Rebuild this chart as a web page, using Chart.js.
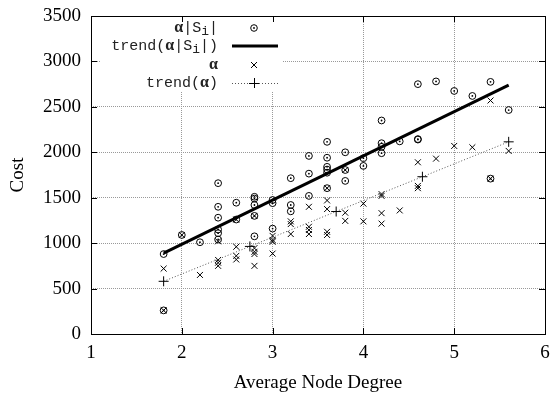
<!DOCTYPE html>
<html><head><meta charset="utf-8">
<script src="https://cdn.jsdelivr.net/npm/chart.js@4.4.0/dist/chart.umd.min.js"></script>
<style>html,body{margin:0;padding:0;background:#fff}#wrap{width:553px;height:398px}</style>
</head><body><div id="wrap"><canvas id="c" width="553" height="398"></canvas></div>
<script>
// ---- data ----
const xTicks = [1, 2, 3, 4, 5, 6];
const yTicks = [0, 500, 1000, 1500, 2000, 2500, 3000, 3500];

// alpha|S_i| (circles)
const degreeS = [1.8,1.8, 2.0, 2.2, 2.4,2.4,2.4,2.4,2.4,2.4, 2.6,2.6, 2.8,2.8,2.8,2.8,2.8,
  3.0,3.0,3.0, 3.2,3.2,3.2, 3.4,3.4,3.4, 3.6,3.6,3.6,3.6,3.6,3.6, 3.8,3.8,3.8, 4.0,4.0,
  4.2,4.2,4.2,4.2, 4.4, 4.6,4.6,4.6, 4.8, 5.0, 5.2, 5.4,5.4, 5.6];
const costS = [880,260, 1090, 1010, 1660,1400,1280,1150,1110,1040, 1445,1260, 1510,1490,1420,1300,1075,
  1475,1440,1160, 1715,1420,1350, 1960,1765,1520, 2115,1940,1840,1810,1775,1605, 2000,1805,1685, 1935,1850,
  2350,2100,2060,1990, 2120, 2750,2145,2140, 2780, 2675, 2620, 2775,1710, 2465];

// alpha (crosses)
const degreeA = [1.8,1.8, 2.0, 2.2, 2.4,2.4,2.4,2.4, 2.6,2.6,2.6,2.6, 2.8,2.8,2.8,2.8,2.8,
  3.0,3.0,3.0,3.0, 3.2,3.2,3.2, 3.4,3.4,3.4,3.4, 3.6,3.6,3.6,3.6,3.6, 3.8,3.8,3.8, 4.0,4.0,
  4.2,4.2,4.2,4.2, 4.4, 4.6,4.6,4.6, 4.8, 5.0, 5.2, 5.4,5.4, 5.6];
const costA = [720,260, 1090, 650, 1020,815,785,750, 1260,960,860,820, 1300,945,905,880,750,
  1080,1035,1015,885, 1240,1210,1100, 1400,1180,1145,1100, 1605,1470,1375,1125,1090, 1805,1335,1245, 1435,1240,
  1540,1520,1330,1215, 1360, 1890,1630,1605, 1930, 2070, 2055, 2570,1710, 2015];

// trend lines
const trendSX = [1.8, 5.6];
const trendSY = [890, 2740];
const trendAX = [1.8, 2.75, 3.7, 4.65, 5.6];
const trendAY = [580, 964, 1348, 1731, 2115];

const legendLabels = ['α|S_i|', 'trend(α|S_i|)', 'α', 'trend(α)'];

// ---- helpers ----
const pts = (xs, ys) => xs.map((x, i) => ({x: x, y: ys[i]}));

const SERIF = '"Liberation Serif", "DejaVu Serif", serif';
const MONO = '"Liberation Mono", "DejaVu Sans Mono", monospace';

function drawRich(ctx, label, xRight, yMid) {
  const segs = [];
  let i = 0;
  while (i < label.length) {
    const ch = label[i];
    if (ch === 'α') { segs.push({t: 'α', f: 'bold 16px ' + SERIF, dy: 0}); i++; }
    else if (ch === '_') { segs.push({t: label[i + 1], f: '13px ' + MONO, dy: 4}); i += 2; }
    else {
      let s = '';
      while (i < label.length && label[i] !== 'α' && label[i] !== '_') { s += label[i]; i++; }
      segs.push({t: s, f: '15px ' + MONO, dy: 0});
    }
  }
  let w = 0;
  segs.forEach(s => { ctx.font = s.f; s.w = ctx.measureText(s.t).width; w += s.w; });
  let x = xRight - w;
  ctx.textBaseline = 'middle';
  ctx.textAlign = 'left';
  ctx.fillStyle = '#222';
  segs.forEach(s => { ctx.font = s.f; ctx.fillText(s.t, x, yMid + s.dy); x += s.w; });
}

const gnuPlugin = {
  id: 'gnu',
  beforeDatasetsDraw(chart) {
    const ctx = chart.ctx;
    ctx.save();
    ctx.fillStyle = '#fff';
    ctx.fillRect(101, 17, 182, 74);
    const rows = [28, 46, 65, 83];
    const tx = 218, sx = 254;
    legendLabels.forEach((lab, k) => drawRich(ctx, lab, tx, rows[k]));
    // samples
    ctx.strokeStyle = '#000'; ctx.fillStyle = '#000'; ctx.lineWidth = 1;
    ctx.beginPath(); ctx.arc(sx, rows[0], 3.3, 0, Math.PI * 2); ctx.stroke();
    ctx.beginPath(); ctx.arc(sx, rows[0], 0.9, 0, Math.PI * 2); ctx.fill();
    ctx.lineWidth = 3;
    ctx.beginPath(); ctx.moveTo(232, rows[1]); ctx.lineTo(278, rows[1]); ctx.stroke();
    ctx.lineWidth = 1;
    ctx.beginPath();
    ctx.moveTo(sx - 3, rows[2] - 3); ctx.lineTo(sx + 3, rows[2] + 3);
    ctx.moveTo(sx - 3, rows[2] + 3); ctx.lineTo(sx + 3, rows[2] - 3);
    ctx.stroke();
    ctx.strokeStyle = '#555'; ctx.setLineDash([1, 2]);
    ctx.beginPath(); ctx.moveTo(232, rows[3] + 0.5); ctx.lineTo(278, rows[3] + 0.5); ctx.stroke();
    ctx.setLineDash([]);
    ctx.strokeStyle = '#000';
    ctx.beginPath();
    ctx.moveTo(sx - 5, rows[3] + 0.5); ctx.lineTo(sx + 5, rows[3] + 0.5);
    ctx.moveTo(sx + 0.5, rows[3] - 5); ctx.lineTo(sx + 0.5, rows[3] + 5);
    ctx.stroke();
    ctx.restore();
  },
  afterDraw(chart) {
    const ctx = chart.ctx, a = chart.chartArea;
    const xs = chart.scales.x, ys = chart.scales.y;
    ctx.save();
    ctx.strokeStyle = '#000'; ctx.lineWidth = 1;
    ctx.beginPath();
    xTicks.forEach(v => {
      const p = Math.round(xs.getPixelForValue(v)) + 0.5;
      ctx.moveTo(p, a.bottom); ctx.lineTo(p, a.bottom - 6);
      ctx.moveTo(p, a.top); ctx.lineTo(p, a.top + 6);
    });
    yTicks.forEach(v => {
      const p = Math.round(ys.getPixelForValue(v)) + 0.5;
      ctx.moveTo(a.left, p); ctx.lineTo(a.left + 6, p);
      ctx.moveTo(a.right, p); ctx.lineTo(a.right - 6, p);
    });
    ctx.stroke();
    ctx.strokeRect(Math.round(a.left) + 0.5, Math.round(a.top) + 0.5,
      Math.round(a.right - a.left), Math.round(a.bottom - a.top));
    ctx.restore();
  }
};

new Chart(document.getElementById('c'), {
  type: 'scatter',
  data: {
    datasets: [
      {label: legendLabels[1], data: pts(trendSX, trendSY), showLine: true,
       borderColor: '#000', borderWidth: 3, pointRadius: 0, order: 1},
      {label: legendLabels[3], data: pts(trendAX, trendAY), showLine: true,
       borderColor: '#555', borderWidth: 1, borderDash: [1, 2],
       pointStyle: 'cross', pointRadius: 5, pointBorderColor: '#000', pointBorderWidth: 1, order: 2},
      {label: legendLabels[0], data: pts(degreeS, costS), pointStyle: 'circle',
       pointRadius: 3.4, pointBorderColor: '#000', pointBackgroundColor: 'rgba(0,0,0,0)',
       pointBorderWidth: 1, order: 3},
      {label: legendLabels[0] + ' centre', data: pts(degreeS, costS), pointStyle: 'circle',
       pointRadius: 0.9, pointBorderWidth: 0, pointBackgroundColor: '#000', order: 3},
      {label: legendLabels[2], data: pts(degreeA, costA), pointStyle: 'crossRot',
       pointRadius: 4.2, pointBorderColor: '#000', pointBorderWidth: 1, order: 4}
    ]
  },
  options: {
    responsive: false,
    animation: false,
    devicePixelRatio: 1,
    layout: {padding: {top: 16, right: 8, left: 0, bottom: 0}},
    plugins: {legend: {display: false}, tooltip: {enabled: false}},
    elements: {point: {hoverRadius: 4}},
    scales: {
      x: {
        type: 'linear', min: 1, max: 6,
        afterBuildTicks: s => { s.ticks = xTicks.map(v => ({value: v})); },
        afterFit: s => { s.height = 64; s.paddingLeft = 0; s.paddingRight = 0; },
        grid: {color: '#999', lineWidth: 1, drawTicks: false},
        border: {display: false, dash: [1, 1]},
        ticks: {color: '#000', font: {family: SERIF, size: 19}, padding: 8, maxRotation: 0,
                callback: v => String(v)},
        title: {display: true, text: 'Average Node Degree', color: '#000',
                font: {family: SERIF, size: 19}, padding: {top: 0, bottom: 4}}
      },
      y: {
        type: 'linear', min: 0, max: 3500,
        afterBuildTicks: s => { s.ticks = yTicks.map(v => ({value: v})); },
        afterFit: s => { s.width = 91; s.paddingTop = 0; s.paddingBottom = 0; },
        grid: {color: '#999', lineWidth: 1, drawTicks: false},
        border: {display: false, dash: [1, 1]},
        ticks: {color: '#000', font: {family: SERIF, size: 19}, padding: 10,
                callback: v => String(v)},
        title: {display: true, text: 'Cost', color: '#000',
                font: {family: SERIF, size: 19}, padding: {top: 7, bottom: 0}}
      }
    }
  },
  plugins: [gnuPlugin]
});
</script></body></html>
